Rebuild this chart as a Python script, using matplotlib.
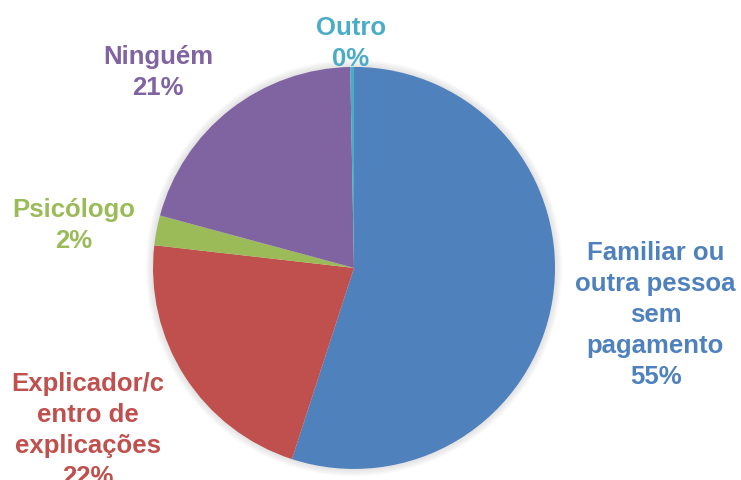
import matplotlib
matplotlib.use("Agg")
import matplotlib.pyplot as plt
from matplotlib.patches import Circle

# Data
categories = ["Familiar ou\noutra pessoa\nsem\npagamento", "Explicador/c\nentro de\nexplicações",
              "Psicólogo", "Ninguém", "Outro"]
values = [55.0, 21.8, 2.4, 20.5, 0.3]
pct_labels = ["55%", "22%", "2%", "21%", "0%"]
colors = ["#4F81BD", "#C0504D", "#9BBB59", "#8064A2", "#4BACC6"]

# label centres (data units, pie radius = 1)
label_pos = [(1.50, -0.235), (-1.323, -0.811), (-1.394, 0.209), (-0.975, 0.970), (-0.015, 1.119)]

plt.rcParams['font.family'] = ['Liberation Sans', 'DejaVu Sans']

fig = plt.figure(figsize=(7.41, 4.80), dpi=100)
ax = fig.add_axes([0, 0, 1, 1])

# faint soft shadow round the pie
for k in range(1, 7):
    ax.add_patch(Circle((0, 0), 1.0 + k * 0.006, color='gray', alpha=0.035, lw=0, zorder=0))

ax.pie(values, colors=colors, startangle=90, counterclock=False, radius=1.0,
       wedgeprops=dict(linewidth=0, zorder=1))

for cat, pct, col, (x, y) in zip(categories, pct_labels, colors, label_pos):
    ax.text(x, y, cat + "\n" + pct, color=col, fontsize=18.5, fontweight='bold',
            ha='center', va='center', linespacing=1.37)

ax.set_xlim(-1.761, 1.925)
ax.set_ylim(-1.055, 1.333)
ax.set_aspect('equal')
ax.axis('off')

fig.savefig("out.png", dpi=100)
